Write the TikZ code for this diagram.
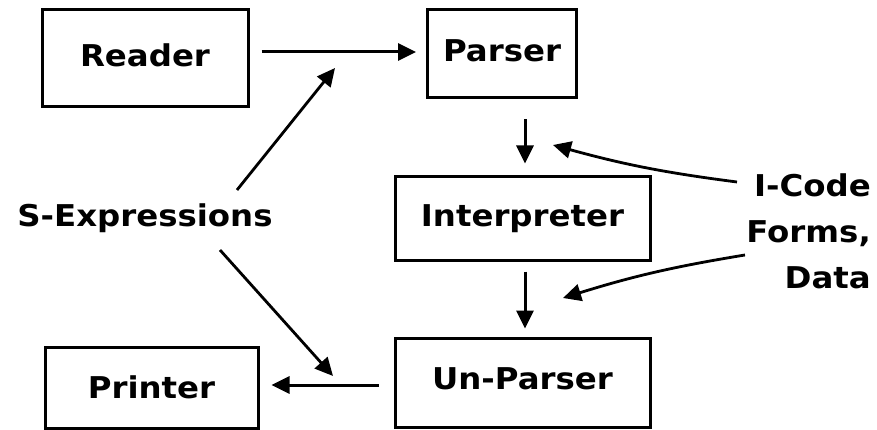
\documentclass[tikz,border=0pt]{standalone}
\usepackage{fontspec}
\setmainfont{DejaVu Sans}[FakeStretch=1.08]
\usetikzlibrary{arrows.meta,positioning}

\tikzset{
  stagebox/.style={rectangle, draw, line width=3pt, font=\bfseries\fontsize{30}{34}\selectfont},
  flow/.style={-{Triangle[length=18pt, width=17pt]}, line width=3pt},
  pointer/.style={-{Triangle[length=18pt, width=17pt]}, line width=2.8pt},
  tag/.style={font=\bfseries\fontsize{30}{46}\selectfont, inner sep=0pt}
}

\begin{document}
\begin{tikzpicture}[x=1pt, y=-1pt]
    \useasboundingbox (0,0) rectangle (877,430);

    \node[stagebox, minimum width=206pt, minimum height=97pt] (reader) at (145,58.5) {\raisebox{6pt}{Reader}};
    \node[stagebox, minimum width=149pt, minimum height=88pt] (parser) at (502,54) {\raisebox{6pt}{Parser}};
    \node[stagebox, minimum width=255pt, minimum height=83pt] (interp) at (522.5,218.5) {\raisebox{6pt}{Interpreter}};
    \node[stagebox, minimum width=255pt, minimum height=89pt] (unparser) at (522.5,382.5) {\raisebox{8pt}{Un-Parser}};
    \node[stagebox, minimum width=213pt, minimum height=81pt] (printer) at (151.5,387.5) {Printer};

    % labels
    \node[tag] (sexp) at (145,218) {S-Expressions};
    \node[tag, align=right, anchor=east] (icode) at (871,231) {I-Code\\Forms,\\Data};

    % main flow
    \draw[flow, shorten <=12pt, shorten >=10pt] (reader.east |- 0,52) -- (parser.west |- 0,52);
    \draw[flow, shorten <=20pt, shorten >=12pt] (parser.south -| 525,0) -- (interp.north -| 525,0);
    \draw[flow, shorten <=10pt, shorten >=8pt] (interp.south -| 525,0) -- (unparser.north -| 525,0);
    \draw[flow, shorten <=15pt, shorten >=12pt] (unparser.west |- 0,385) -- (printer.east |- 0,385);

    % pointers from the labels
    \coordinate (sexpup) at (237,190);
    \coordinate (sexpdown) at (220,250);
    \coordinate (upend) at (335,68);
    \coordinate (downend) at (333,376);
    \draw[pointer] (sexpup) -- (upend);
    \draw[pointer] (sexpdown) -- (downend);

    \coordinate (icodeup) at (737,182);
    \coordinate (icodedown) at (745,255);
    \coordinate (parsein) at (553,145);
    \coordinate (unparsein) at (563,298);
    \draw[pointer] (icodeup) to[bend left=4] (parsein);
    \draw[pointer] (icodedown) to[bend right=4] (unparsein);
\end{tikzpicture}
\end{document}
